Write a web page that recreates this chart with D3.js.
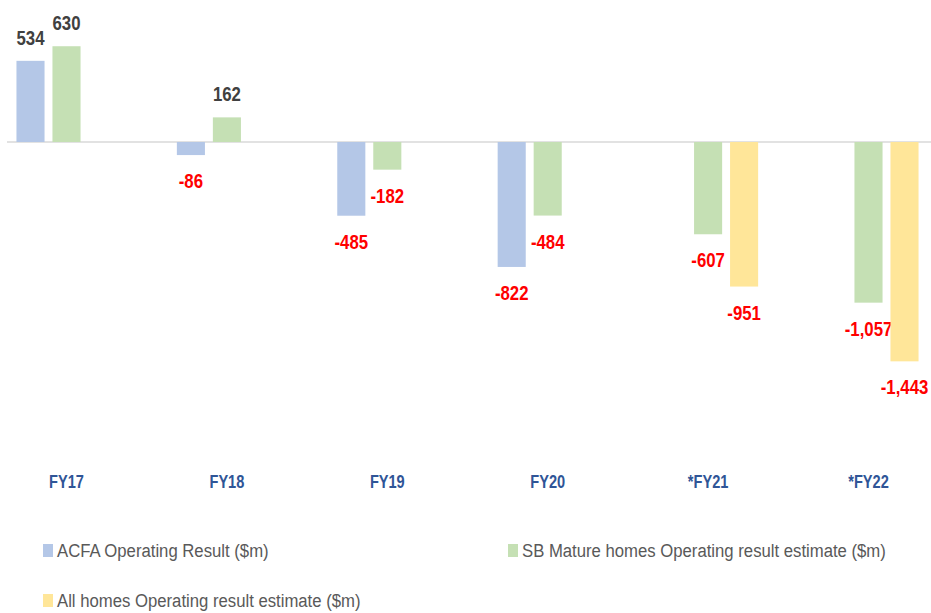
<!DOCTYPE html>
<html>
<head>
<meta charset="utf-8">
<script src="https://cdnjs.cloudflare.com/ajax/libs/d3/7.8.5/d3.min.js"></script>
<style>
	body { margin: 0; background: #fff; }
	text { font-family: "Liberation Sans Narrow", "Arial Narrow", "Liberation Sans", sans-serif; }
</style>
</head>
<body>
<div id="chart"></div>
<script>
var categories = ["FY17", "FY18", "FY19", "FY20", "*FY21", "*FY22"];
var seriesNames = ["ACFA Operating Result ($m)", "SB Mature homes Operating result estimate ($m)", "All homes Operating result estimate ($m)"];
var acfa = [534, -86, -485, -822, null, null];
var sbMature = [630, 162, -182, -484, -607, -1057];
var allHomes = [null, null, null, null, -951, -1443];

var colors = ["#b4c7e7", "#c5e0b4", "#ffe699"];

var W = 931, H = 613;
var svg = d3.select("#chart").append("svg")
	.attr("width", W)
	.attr("height", H);

var data = categories.map(function (c, i) {
	return { category: c, values: [acfa[i], sbMature[i], allHomes[i]] };
});

// narrow font look: place text at (x,y) and squeeze it horizontally
function place(x, y, k) {
	return "translate(" + x + "," + y + ") scale(" + k + ",1)";
}

// group band, three slots per category (blue | green | yellow)
var x0 = d3.scaleBand()
	.domain(categories)
	.range([-13.7, 948.7])
	.paddingInner(0)
	.paddingOuter(0);

var x1 = d3.scaleBand()
	.domain([0, 1, 2])
	.range([x0.bandwidth() / 2 - 54, x0.bandwidth() / 2 + 54])
	.paddingInner(0.22)
	.paddingOuter(0.11);

var y = d3.scaleLinear()
	.domain([-1600, 700])
	.range([385.2, 35.6]);

// zero line
svg.append("line")
	.attr("x1", 7).attr("x2", W)
	.attr("y1", y(0)).attr("y2", y(0))
	.attr("stroke", "#d9d9d9")
	.attr("stroke-width", 1.5);

var groups = svg.append("g")
	.selectAll("g")
	.data(data)
	.enter().append("g")
	.attr("transform", function (d) {
		return "translate(" + x0(d.category) + ",0)";
	});

var cells = groups.selectAll("g.cell")
	.data(function (d) {
		return d.values.map(function (v, i) { return { v: v, i: i }; })
			.filter(function (e) { return e.v !== null; });
	})
	.enter().append("g")
	.attr("class", "cell");

cells.append("rect")
	.attr("x", function (d) { return x1(d.i); })
	.attr("y", function (d) { return y(Math.max(0, d.v)); })
	.attr("width", x1.bandwidth())
	.attr("height", function (d) { return Math.abs(y(d.v) - y(0)); })
	.attr("fill", function (d) { return colors[d.i]; });

cells.append("text")
	.attr("transform", function (d) {
		var ty = d.v >= 0 ? y(d.v) - 16 : y(d.v) + 33;
		return place(x1(d.i) + x1.bandwidth() / 2, ty, 0.84);
	})
	.attr("text-anchor", "middle")
	.attr("font-size", 20)
	.attr("font-weight", "bold")
	.attr("fill", function (d) { return d.v >= 0 ? "#404040" : "#ff0000"; })
	.text(function (d) { return d3.format(",")(d.v).replace("−", "-"); });

// category labels
svg.append("g")
	.selectAll("text")
	.data(categories)
	.enter().append("text")
	.attr("transform", function (d) {
		return place(x0(d) + x0.bandwidth() / 2, 488, 0.81);
	})
	.attr("text-anchor", "middle")
	.attr("font-size", 18)
	.attr("font-weight", "bold")
	.attr("fill", "#2f5597")
	.text(function (d) { return d; });

// legend
var legendPos = [[43, 557], [508, 557], [43, 607]];
var legend = svg.append("g")
	.selectAll("g")
	.data(seriesNames)
	.enter().append("g")
	.attr("transform", function (d, i) {
		return "translate(" + legendPos[i][0] + "," + legendPos[i][1] + ")";
	});

legend.append("rect")
	.attr("x", 0).attr("y", -13)
	.attr("width", 10).attr("height", 13)
	.attr("fill", function (d, i) { return colors[i]; });

legend.append("text")
	.attr("transform", place(14, 0, 0.88))
	.attr("font-size", 19)
	.attr("fill", "#595959")
	.text(function (d) { return d; });
</script>
</body>
</html>
